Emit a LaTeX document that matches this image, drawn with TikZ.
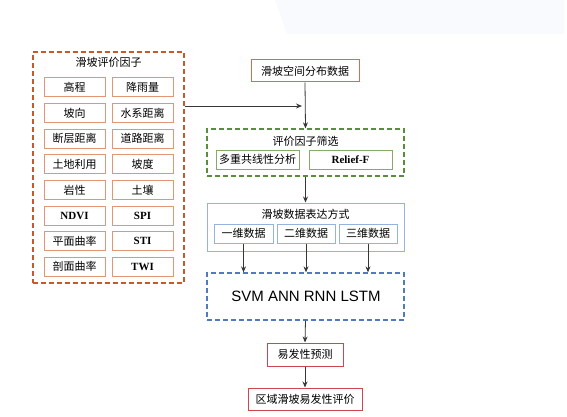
\documentclass[tikz,border=0pt]{standalone}
\usepackage{fontspec}
\setmainfont{Liberation Serif}
\newfontfamily\cjk{Noto Sans CJK SC}
\newfontfamily\armodel{Liberation Sans}
\usepackage{tikz}
\usetikzlibrary{arrows.meta,positioning,calc}
\usepackage{xcolor}
\definecolor{factorframe}{RGB}{200,88,45}
\definecolor{factorcell}{RGB}{226,150,118}
\definecolor{screenframe}{RGB}{92,140,62}
\definecolor{screencell}{RGB}{132,172,104}
\definecolor{dataframe}{RGB}{150,178,222}
\definecolor{modelframe}{RGB}{82,122,188}
\definecolor{resultframe}{RGB}{205,70,80}
\definecolor{linkgray}{RGB}{55,55,55}
\definecolor{shadebg}{RGB}{249,250,253}

\begin{document}
\begin{tikzpicture}[
    x=1pt, y=-1pt,
    cjktext/.style={font=\cjk\fontsize{11}{13}\selectfont, inner sep=0pt},
    latintext/.style={font=\bfseries\fontsize{11}{13}\selectfont, inner sep=0pt},
    cell/.style={draw=factorcell, line width=1pt, minimum width=61pt,
                 minimum height=19pt, inner sep=0pt},
    frame/.style={line width=1.3pt, dash pattern=on 5pt off 3pt,
                  minimum width=197pt, inner sep=0pt},
    link/.style={draw=linkgray, line width=0.8pt,
                 -{Stealth[length=6pt, width=5pt]}}
]
\useasboundingbox (0,0) rectangle (567,417);
\fill[shadebg] (275,0) -- (287,34) -- (564,34) -- (564,0) -- cycle;

% factor list
\node[frame, draw=factorframe, minimum width=151pt, minimum height=231pt]
    (factors) at (108.5,167.5) {};
\node[cjktext] (factortitle) at (108.5,62) {滑坡评价因子};

\node[cell, cjktext] (elev)  at (74.5,87.5)  {高程};
\node[cell, cjktext] (rain)  at (142.5,87.5) {降雨量};
\node[cell, cjktext] (aspect) at (74.5,113.1) {坡向};
\node[cell, cjktext] (river) at (142.5,113.1) {水系距离};
\node[cell, cjktext] (fault) at (74.5,138.7) {断层距离};
\node[cell, cjktext] (road)  at (142.5,138.7) {道路距离};
\node[cell, cjktext] (landuse) at (74.5,164.3) {土地利用};
\node[cell, cjktext] (slope) at (142.5,164.3) {坡度};
\node[cell, cjktext] (litho) at (74.5,189.9) {岩性};
\node[cell, cjktext] (soil)  at (142.5,189.9) {土壤};
\node[cell, latintext] (ndvi) at (74.5,215.5) {NDVI};
\node[cell, latintext] (spi)  at (142.5,215.5) {SPI};
\node[cell, cjktext] (plancurv) at (74.5,241.1) {平面曲率};
\node[cell, latintext] (sti)  at (142.5,241.1) {STI};
\node[cell, cjktext] (profcurv) at (74.5,266.7) {剖面曲率};
\node[cell, latintext] (twi)  at (142.5,266.7) {TWI};

% main flow
\node[cjktext, draw=factorframe!85, line width=1pt, minimum width=108pt,
      minimum height=22pt] (inventory) at (305,71) {滑坡空间分布数据};

\node[frame, draw=screenframe, minimum height=47pt] (screen) at (305.5,152.5) {};
\node[cjktext] (screentitle) at (305.5,141) {评价因子筛选};
\node[cjktext, draw=screencell, line width=1pt, minimum width=83pt,
      minimum height=19pt] (vif) at (257.5,159.5) {多重共线性分析};
\node[latintext, draw=screencell, line width=1pt, minimum width=83pt,
      minimum height=19pt] (relief) at (350.5,159.5) {Relief-F};

\node[draw=dataframe, line width=1pt, minimum width=197pt, minimum height=48pt]
    (express) at (305.5,227) {};
\node[cjktext] (expresstitle) at (305.5,214) {滑坡数据表达方式};
\node[cjktext, draw=dataframe, line width=1pt, minimum width=59pt,
      minimum height=19pt] (oned) at (243.5,233.5) {一维数据};
\node[cjktext, draw=dataframe, line width=1pt, minimum width=58pt,
      minimum height=19pt] (twod) at (306,233.5) {二维数据};
\node[cjktext, draw=dataframe, line width=1pt, minimum width=58pt,
      minimum height=19pt] (threed) at (368,233.5) {三维数据};

\node[frame, draw=modelframe, minimum height=47pt] (models) at (305.5,296.5) {};
\node[font=\armodel\fontsize{15}{17}\selectfont, inner sep=0pt] (modelnames)
    at (306,296) {SVM ANN RNN LSTM};

\node[cjktext, draw=resultframe, line width=1pt, minimum width=76pt,
      minimum height=23pt] (predict) at (305,354.5) {易发性预测};
\node[cjktext, draw=resultframe, line width=1pt, minimum width=114pt,
      minimum height=22pt] (assess) at (305,399) {区域滑坡易发性评价};

% connectors
\coordinate (join) at (302,106);
\draw[link] (factors.east |- join) -- (join);
\draw[link] (inventory.south) -- (screen.north);
\draw[link] (screen.south) -- (express.north);
\draw[link] (oned.south) -- (oned.south |- models.north);
\draw[link] (twod.south) -- (twod.south |- models.north);
\draw[link] (threed.south) -- (threed.south |- models.north);
\draw[link] (models.south) -- (predict.north);
\draw[link] (predict.south) -- (assess.north);
\end{tikzpicture}
\end{document}
